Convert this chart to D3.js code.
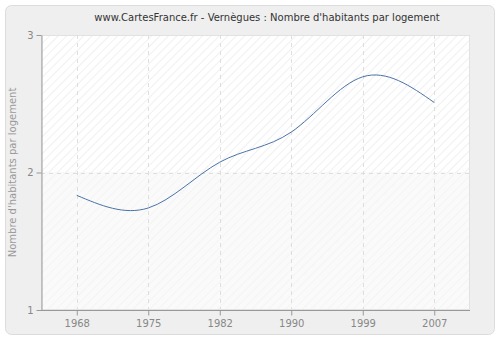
<!DOCTYPE html>
<html><head><meta charset="utf-8">
<script src="https://cdn.jsdelivr.net/npm/d3@7"></script>
<style>body{margin:0;background:#fff}svg{display:block}text{font-family:"DejaVu Sans",Verdana,sans-serif}</style>
</head><body><div id="chart"></div>
<script>
const years = ["1968","1975","1982","1990","1999","2007"];
const values = [1.834, 1.742, 2.075, 2.294, 2.696, 2.509];
const yTicks = [1, 2, 3];
const title = "www.CartesFrance.fr - Vernègues : Nombre d'habitants par logement";
const yLabel = "Nombre d'habitants par logement";

const W = 500, H = 340;
const m = {left: 41, right: 30, top: 35, bottom: 30};
const svg = d3.select("#chart").append("svg").attr("width", W).attr("height", H);
const defs = svg.append("defs");
const p1 = defs.append("pattern").attr("id","hatch").attr("patternUnits","userSpaceOnUse")
  .attr("width",6).attr("height",6).attr("patternTransform","rotate(45)");
p1.append("rect").attr("width",6).attr("height",6).attr("fill","#ffffff");
p1.append("line").attr("x1",0).attr("y1",0).attr("x2",0).attr("y2",6).attr("stroke","#ececec").attr("stroke-width",1.5);
const p2 = defs.append("pattern").attr("id","hatch2").attr("patternUnits","userSpaceOnUse")
  .attr("width",6).attr("height",6).attr("patternTransform","rotate(45)");
p2.append("rect").attr("width",6).attr("height",6).attr("fill","#fafafa");
p2.append("line").attr("x1",0).attr("y1",0).attr("x2",0).attr("y2",6).attr("stroke","#f2f2f2").attr("stroke-width",1.5);

svg.append("rect").attr("x",5.5).attr("y",5.5).attr("width",489).attr("height",329)
  .attr("rx",6).attr("fill","#efefef").attr("stroke","#dcdcdc");

const x = d3.scalePoint().domain(years).range([m.left, W - m.right]).padding(0.5);
const y = d3.scaleLinear().domain([1, 3]).range([H - m.bottom, m.top]);

const pw = W - m.right - m.left;
svg.append("rect").attr("x",m.left).attr("y",m.top).attr("width",pw).attr("height",y(2)-m.top).attr("fill","url(#hatch)");
svg.append("rect").attr("x",m.left).attr("y",y(2)).attr("width",pw).attr("height",y(1)-y(2)).attr("fill","url(#hatch2)");
svg.append("rect").attr("x",m.left+0.5).attr("y",m.top+0.5).attr("width",pw-1).attr("height",y(1)-m.top-1)
  .attr("fill","none").attr("stroke","#e2e2e2");

// grid
svg.append("g").selectAll("line").data(years).join("line")
  .attr("x1",d=>Math.round(x(d))+0.5).attr("x2",d=>Math.round(x(d))+0.5)
  .attr("y1",m.top).attr("y2",y(1))
  .attr("stroke","#dedede").attr("stroke-dasharray","4,4");
svg.append("g").selectAll("line").data([2]).join("line")
  .attr("x1",m.left).attr("x2",W-m.right).attr("y1",d=>Math.round(y(d))+0.5).attr("y2",d=>Math.round(y(d))+0.5)
  .attr("stroke","#dedede").attr("stroke-dasharray","4,4");

// axes
const xa = svg.append("g").attr("transform",`translate(0,${Math.round(y(1))+0.5})`)
  .call(d3.axisBottom(x).tickSize(5).tickPadding(4).tickSizeOuter(0));
const ya = svg.append("g").attr("transform",`translate(${m.left+0.5},0)`)
  .call(d3.axisLeft(y).tickValues(yTicks).tickFormat(d3.format("d")).tickSize(5).tickPadding(3).tickSizeOuter(0));
[xa, ya].forEach(a => {
  a.select(".domain").attr("stroke","#999");
  a.selectAll(".tick line").attr("stroke","#999");
  a.selectAll(".tick text").attr("fill","#888").attr("font-size",10).attr("font-family","DejaVu Sans, Verdana, sans-serif");
});
xa.select(".domain").attr("d",`M${m.left},0H${W-m.right}`);

// line
const line = d3.line().x((d,i)=>x(years[i])).y(d=>y(d)).curve(d3.curveNatural);
svg.append("path").datum(values).attr("d",line).attr("fill","none")
  .attr("stroke","#4a73a8").attr("stroke-width",1);

svg.append("text").attr("x",267).attr("y",21).attr("text-anchor","middle")
  .attr("font-size",10).attr("fill","#333").text(title);
svg.append("text").attr("transform",`translate(16,${y(2)}) rotate(-90)`).attr("text-anchor","middle")
  .attr("font-size",10).attr("fill","#999").text(yLabel);
</script></body></html>
